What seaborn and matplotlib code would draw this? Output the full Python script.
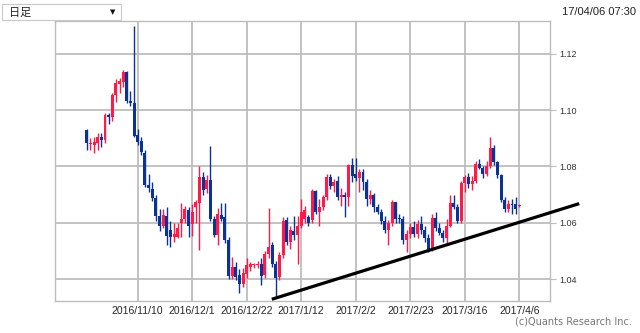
import matplotlib
matplotlib.use("Agg")
import matplotlib.pyplot as plt
import seaborn as sns
import numpy as np
import pandas as pd
from matplotlib.patches import Rectangle

# ---- data (EUR/USD daily, 2016/10/21 - 2017/04/06) ----
opens = [1.0928, 1.0880, 1.0878, 1.0882, 1.0905, 1.0893, 1.0982, 1.0977, 1.1054, 1.1092,
         1.1100, 1.1136, 1.1034, 1.1025, 1.0911, 1.0891, 1.0849, 1.0734, 1.0720, 1.0688,
         1.0625, 1.0588, 1.0624, 1.0575, 1.0550, 1.0550, 1.0598, 1.0612, 1.0645, 1.0595,
         1.0657, 1.0669, 1.0764, 1.0720, 1.0752, 1.0612, 1.0556, 1.0627, 1.0621, 1.0538,
         1.0410, 1.0443, 1.0413, 1.0383, 1.0419, 1.0443, 1.0449, 1.0450, 1.0455, 1.0413,
         1.0490, 1.0520, 1.0455, 1.0408, 1.0485, 1.0610, 1.0530, 1.0570, 1.0555, 1.0590,
         1.0615, 1.0620, 1.0610, 1.0712, 1.0640, 1.0655, 1.0690, 1.0764, 1.0730, 1.0750,
         1.0690, 1.0700, 1.0690, 1.0805, 1.0775, 1.0760, 1.0780, 1.0745, 1.0683, 1.0700,
         1.0657, 1.0638, 1.0605, 1.0575, 1.0600, 1.0672, 1.0618, 1.0612, 1.0540, 1.0560,
         1.0585, 1.0560, 1.0595, 1.0575, 1.0545, 1.0510, 1.0618, 1.0582, 1.0565, 1.0546,
         1.0590, 1.0671, 1.0655, 1.0608, 1.0743, 1.0762, 1.0738, 1.0750, 1.0810, 1.0795,
         1.0775, 1.0800, 1.0865, 1.0815, 1.0770, 1.0680, 1.0650, 1.0667, 1.0665, 1.0660]
highs = [1.0935, 1.0903, 1.0905, 1.0918, 1.0918, 1.0990, 1.0990, 1.1062, 1.1110, 1.1115,
         1.1142, 1.1140, 1.1070, 1.1299, 1.0935, 1.0905, 1.0860, 1.0775, 1.0745, 1.0700,
         1.0650, 1.0650, 1.0657, 1.0605, 1.0600, 1.0600, 1.0669, 1.0660, 1.0657, 1.0668,
         1.0681, 1.0800, 1.0780, 1.0770, 1.0874, 1.0625, 1.0651, 1.0669, 1.0669, 1.0550,
         1.0479, 1.0460, 1.0437, 1.0440, 1.0473, 1.0460, 1.0458, 1.0465, 1.0473, 1.0500,
         1.0652, 1.0530, 1.0465, 1.0495, 1.0620, 1.0620, 1.0590, 1.0625, 1.0625, 1.0685,
         1.0660, 1.0628, 1.0720, 1.0715, 1.0685, 1.0700, 1.0775, 1.0775, 1.0755, 1.0765,
         1.0725, 1.0710, 1.0810, 1.0829, 1.0829, 1.0790, 1.0790, 1.0755, 1.0715, 1.0705,
         1.0665, 1.0650, 1.0625, 1.0610, 1.0680, 1.0675, 1.0630, 1.0625, 1.0575, 1.0600,
         1.0605, 1.0610, 1.0625, 1.0590, 1.0560, 1.0630, 1.0640, 1.0600, 1.0575, 1.0615,
         1.0700, 1.0700, 1.0668, 1.0750, 1.0770, 1.0778, 1.0765, 1.0820, 1.0825, 1.0800,
         1.0820, 1.0906, 1.0878, 1.0820, 1.0775, 1.0690, 1.0680, 1.0685, 1.0690, 1.0667]
lows = [1.0857, 1.0858, 1.0849, 1.0860, 1.0868, 1.0883, 1.0952, 1.0960, 1.1028, 1.1060,
        1.1082, 1.1025, 1.1015, 1.0905, 1.0878, 1.0840, 1.0728, 1.0708, 1.0678, 1.0608,
        1.0570, 1.0580, 1.0520, 1.0514, 1.0530, 1.0545, 1.0550, 1.0600, 1.0550, 1.0552,
        1.0600, 1.0502, 1.0700, 1.0705, 1.0605, 1.0550, 1.0520, 1.0605, 1.0527, 1.0400,
        1.0401, 1.0395, 1.0352, 1.0370, 1.0405, 1.0430, 1.0440, 1.0440, 1.0378, 1.0405,
        1.0475, 1.0443, 1.0340, 1.0395, 1.0475, 1.0520, 1.0505, 1.0540, 1.0455, 1.0580,
        1.0600, 1.0590, 1.0600, 1.0630, 1.0590, 1.0645, 1.0680, 1.0720, 1.0710, 1.0680,
        1.0660, 1.0620, 1.0660, 1.0745, 1.0750, 1.0710, 1.0715, 1.0660, 1.0665, 1.0640,
        1.0630, 1.0595, 1.0565, 1.0520, 1.0590, 1.0600, 1.0600, 1.0525, 1.0495, 1.0545,
        1.0550, 1.0545, 1.0560, 1.0530, 1.0495, 1.0500, 1.0570, 1.0555, 1.0530, 1.0525,
        1.0585, 1.0650, 1.0598, 1.0600, 1.0710, 1.0725, 1.0715, 1.0740, 1.0790, 1.0760,
        1.0765, 1.0795, 1.0805, 1.0760, 1.0675, 1.0640, 1.0640, 1.0630, 1.0630, 1.0655]
closes = [1.0882, 1.0884, 1.0886, 1.0904, 1.0893, 1.0982, 1.0977, 1.1054, 1.1096, 1.1104,
          1.1136, 1.1034, 1.1025, 1.0907, 1.0888, 1.0852, 1.0734, 1.0722, 1.0688, 1.0625,
          1.0588, 1.0628, 1.0552, 1.0550, 1.0560, 1.0583, 1.0612, 1.0648, 1.0588, 1.0640,
          1.0675, 1.0764, 1.0717, 1.0752, 1.0612, 1.0556, 1.0631, 1.0615, 1.0538, 1.0410,
          1.0443, 1.0407, 1.0383, 1.0422, 1.0449, 1.0452, 1.0452, 1.0455, 1.0410, 1.0490,
          1.0514, 1.0455, 1.0405, 1.0485, 1.0605, 1.0530, 1.0575, 1.0555, 1.0590, 1.0640,
          1.0645, 1.0600, 1.0712, 1.0640, 1.0655, 1.0690, 1.0764, 1.0730, 1.0745, 1.0690,
          1.0700, 1.0690, 1.0805, 1.0765, 1.0760, 1.0780, 1.0745, 1.0683, 1.0700, 1.0657,
          1.0638, 1.0605, 1.0575, 1.0600, 1.0672, 1.0615, 1.0612, 1.0540, 1.0560, 1.0585,
          1.0560, 1.0595, 1.0575, 1.0545, 1.0505, 1.0618, 1.0582, 1.0565, 1.0546, 1.0590,
          1.0671, 1.0655, 1.0608, 1.0743, 1.0762, 1.0738, 1.0750, 1.0810, 1.0795, 1.0775,
          1.0800, 1.0865, 1.0815, 1.0770, 1.0680, 1.0650, 1.0667, 1.0662, 1.0650, 1.0663]

dates = pd.bdate_range("2016-10-21", "2017-04-06")
x_tick_labels = ["2016/11/10", "2016/12/1", "2016/12/22", "2017/1/12",
                 "2017/2/2", "2017/2/23", "2017/3/16", "2017/4/6"]
y_ticks = [1.04, 1.06, 1.08, 1.10, 1.12]
trend_x = [50.9, 135.5]          # trading-day index of trend line ends
trend_y = [1.0328, 1.0668]       # price at trend line ends

# ---- styling ----
sns.set_theme(style="white")
plt.rcParams['font.family'] = ['Liberation Sans', 'DejaVu Sans']

UP = "#ff1a47"
DOWN = "#0a3399"
GRID = "#bdbdbd"

df = pd.DataFrame({"date": dates, "open": opens, "high": highs,
                   "low": lows, "close": closes})
df["i"] = np.arange(len(df))
df["up"] = df["close"] >= df["open"]
df["color"] = np.where(df["up"], UP, DOWN)

fig = plt.figure(figsize=(6.4, 3.33), dpi=100)
ax = fig.add_axes([55 / 640, 1 - 300.7 / 333, 495 / 640, 280.2 / 333])

# grid
for yv in y_ticks:
    ax.axhline(yv, color=GRID, lw=1.3, zorder=0)
tick_idx = [df.index[df["date"] == pd.Timestamp(d.replace("/", "-"))][0]
            for d in x_tick_labels]
for xv in tick_idx:
    ax.axvline(xv, color=GRID, lw=1.3, zorder=0)

# wicks
ax.vlines(df["i"], df["low"], df["high"], colors=df["color"], lw=1.0, zorder=2)
# bodies
body_bottom = np.minimum(df["open"], df["close"])
body_h = np.maximum(np.abs(df["close"] - df["open"]), 0.0003)
ax.bar(df["i"], body_h, bottom=body_bottom, width=0.82, color=df["color"],
       linewidth=0, zorder=3)

# trend line
ax.plot(trend_x, trend_y, color="black", lw=2.3, clip_on=False, zorder=5,
        solid_capstyle="butt")

ax.set_xlim(-8.76, 127.46)
ax.set_ylim(1.03229, 1.1319)

ax.set_xticks(tick_idx)
ax.set_xticklabels(x_tick_labels, fontsize=7.5, color="#262626")
ax.tick_params(axis="x", length=0, pad=4)

ax.yaxis.tick_right()
ax.set_yticks(y_ticks)
ax.set_yticklabels([f"{v:.2f}" for v in y_ticks], fontsize=6.5, color="#333333")
ax.tick_params(axis="y", length=4, width=0.8, color=GRID, pad=3, right=True)

for s in ax.spines.values():
    s.set_color(GRID)
    s.set_linewidth(1.0)

# header widgets
fig.patches.append(Rectangle((2 / 640, 1 - 20 / 333), 119 / 640, 16 / 333,
                             transform=fig.transFigure, facecolor="white",
                             edgecolor="#c8c8c8", lw=0.8))
fig.text(9 / 640, 1 - 12.5 / 333, "日足", fontsize=8,
         family=["Noto Sans CJK JP", "DejaVu Sans"], va="center", ha="left",
         color="#222222")
fig.text(113 / 640, 1 - 12.5 / 333, "▼", fontsize=5,
         family=["DejaVu Sans"], va="center", ha="center", color="#111111")
fig.text(636 / 640, 1 - 12 / 333, "17/04/06 07:30", fontsize=8,
         va="center", ha="right", color="#222222")
fig.text(632 / 640, 1 - 321 / 333, "(c)Quants Research Inc.", fontsize=7,
         family=["DejaVu Sans"], va="center", ha="right", color="#777777")

fig.savefig("out.png", dpi=100)
